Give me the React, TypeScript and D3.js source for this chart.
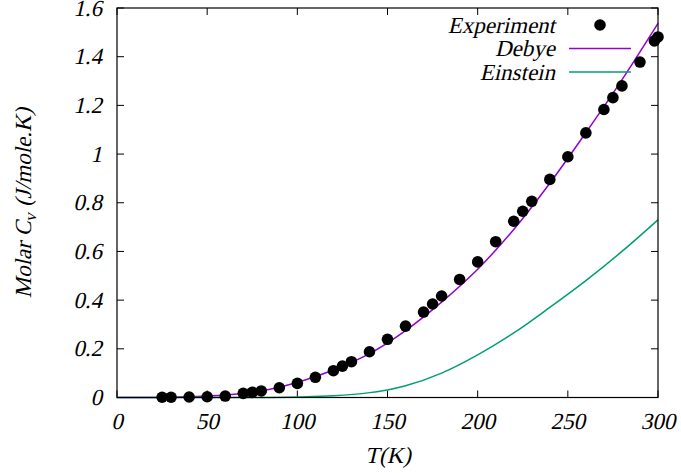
import React from "react";
import * as d3 from "d3";

const expT = [25, 30, 40, 50, 60, 70, 75, 80, 90, 100, 110, 120, 125, 130, 140, 150, 160, 170, 175, 180, 190, 200, 210, 220, 225, 230, 240, 250, 260, 270, 275, 280, 290, 298, 300];
const expCv = [0.001, 0.001, 0.002, 0.003, 0.006, 0.017, 0.021, 0.027, 0.04, 0.058, 0.083, 0.11, 0.129, 0.147, 0.188, 0.239, 0.293, 0.351, 0.384, 0.417, 0.485, 0.557, 0.64, 0.724, 0.765, 0.806, 0.896, 0.989, 1.087, 1.183, 1.232, 1.28, 1.378, 1.465, 1.481];

// model curves
const debyeT = [0, 20, 40, 60, 80, 100, 120, 140, 160, 180, 200, 220, 240, 260, 280, 300];
const debyeCv = [0, 0.0004, 0.003, 0.01, 0.027, 0.062, 0.113, 0.18, 0.275, 0.392, 0.527, 0.69, 0.88, 1.088, 1.305, 1.537];
const einsteinT = [0, 40, 80, 100, 120, 140, 150, 160, 180, 200, 220, 240, 260, 280, 300];
const einsteinCv = [0, 0, 0, 0.002, 0.007, 0.02, 0.031, 0.048, 0.1, 0.175, 0.265, 0.37, 0.48, 0.6, 0.73];

const xTicks = [0, 50, 100, 150, 200, 250, 300];
const yTicks = [0, 0.2, 0.4, 0.6, 0.8, 1, 1.2, 1.4, 1.6];

const legendItems = [
  { label: "Experiment", kind: "dot", color: "#000" },
  { label: "Debye", kind: "line", color: "#9400d3" },
  { label: "Einstein", kind: "line", color: "#009e73" },
];

const W = 681;
const H = 473;
const margin = { top: 8, right: 23, bottom: 75.5, left: 117 };
const w = W - margin.left - margin.right;
const h = H - margin.top - margin.bottom;
const font = "Liberation Serif";
const fs = 23;
const tick = 7;
const slant = "skewX(-13)";

const x = d3.scaleLinear().domain([0, 300]).range([0, w]);
const y = d3.scaleLinear().domain([0, 1.6]).range([h, 0]);
const line = d3.line().curve(d3.curveMonotoneX);

const debyePath = line(debyeT.map((t, i) => [x(t), y(debyeCv[i])]));
const einsteinPath = line(einsteinT.map((t, i) => [x(t), y(einsteinCv[i])]));

// upright serif text, slanted like the italic labels of the reference
const Label = ({ x: tx, y: ty, anchor, dy, children }) => (
  <text
    transform={`translate(${tx},${ty}) ${slant}`}
    textAnchor={anchor}
    dy={dy}
    fontFamily={font}
    fontSize={fs}
  >
    {children}
  </text>
);

const App = () => {
  return (
    <svg width={W} height={H} style={{ position: "absolute", left: 0, top: 0 }}>
      <rect width={W} height={H} fill="#fff" />
      <g transform={`translate(${margin.left},${margin.top})`}>
        {/* x ticks, bottom and top, inward */}
        {xTicks.map((t) => (
          <g key={"x" + t}>
            <line x1={x(t)} x2={x(t)} y1={h} y2={h - tick} stroke="#000" />
            <line x1={x(t)} x2={x(t)} y1={0} y2={tick} stroke="#000" />
            <Label x={x(t)} y={h + 31.5} anchor="middle">
              {String(t)}
            </Label>
          </g>
        ))}
        {/* y ticks, left and right, inward */}
        {yTicks.map((t) => (
          <g key={"y" + t}>
            <line x1={0} x2={tick} y1={y(t)} y2={y(t)} stroke="#000" />
            <line x1={w} x2={w - tick} y1={y(t)} y2={y(t)} stroke="#000" />
            <Label x={-15} y={y(t) + 7.6} anchor="end">
              {String(t)}
            </Label>
          </g>
        ))}

        <path d={debyePath} fill="none" stroke="#9400d3" strokeWidth={1.5} />
        <path d={einsteinPath} fill="none" stroke="#009e73" strokeWidth={1.5} />

        <rect width={w} height={h} fill="none" stroke="#000" strokeWidth={1.2} />

        {expT.map((t, i) => (
          <circle key={"p" + i} cx={x(t)} cy={y(expCv[i])} r={5.8} fill="#000" />
        ))}
      </g>

      {/* legend */}
      {legendItems.map((it, i) => {
        const yy = 25 + i * 23.5;
        return (
          <g key={it.label}>
            <Label x={555} y={yy + 7.5} anchor="end">
              {it.label}
            </Label>
            {it.kind === "dot" ? (
              <circle cx={600} cy={yy} r={5.8} fill={it.color} />
            ) : (
              <line x1={569} x2={631} y1={yy} y2={yy} stroke={it.color} strokeWidth={1.5} />
            )}
          </g>
        );
      })}

      {/* axis titles */}
      <Label x={388} y={463} anchor="middle">
        T(K)
      </Label>
      <text
        transform={`translate(31,203) rotate(-90) ${slant}`}
        textAnchor="middle"
        fontFamily={font}
        fontSize={fs}
      >
        <tspan>Molar C</tspan>
        <tspan dy={5} fontSize={17}>v</tspan>
        <tspan dy={-5}> (J/mole.K)</tspan>
      </text>
    </svg>
  );
};

export default App;
